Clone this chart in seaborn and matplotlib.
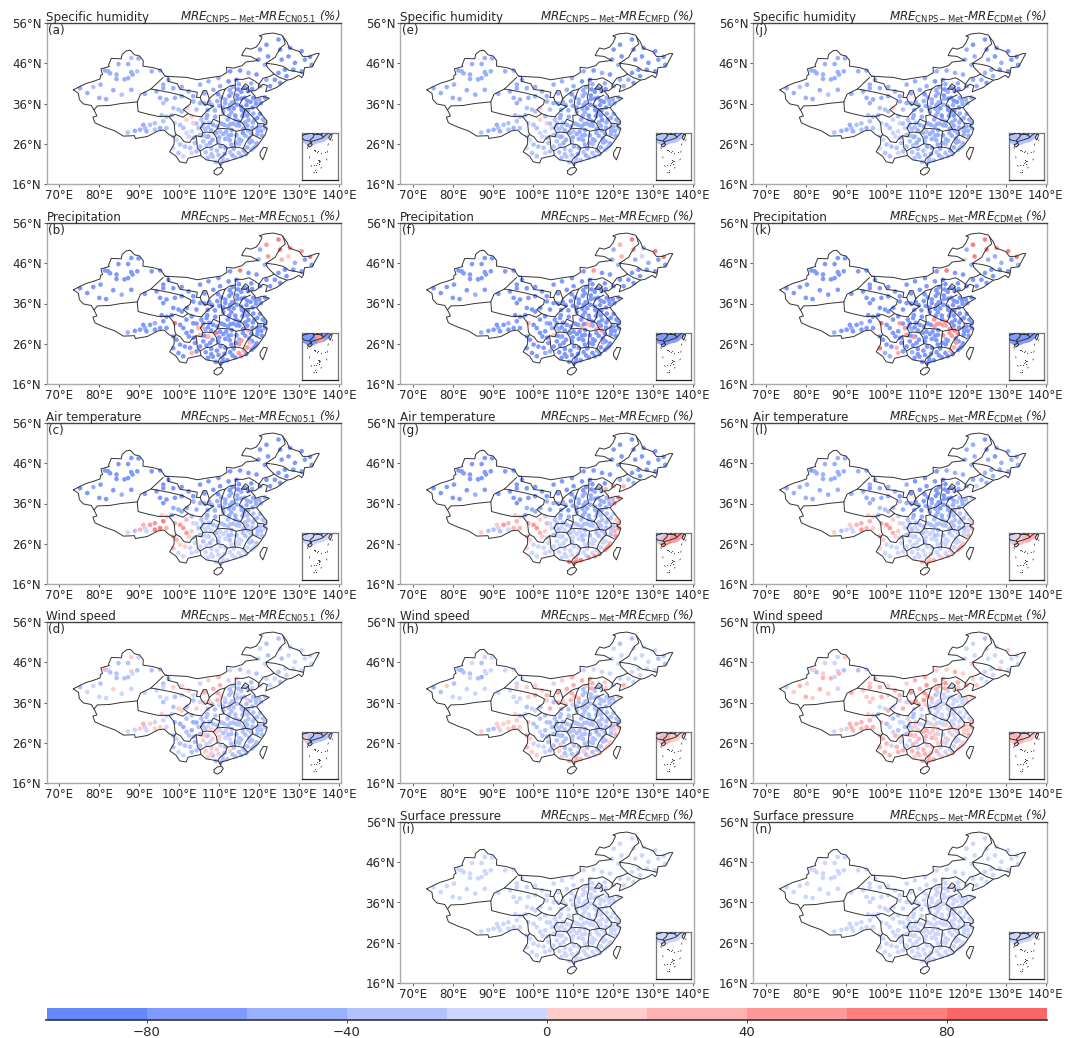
import matplotlib
matplotlib.use("Agg")
import matplotlib.pyplot as plt
from matplotlib.cm import ScalarMappable
from matplotlib.colors import BoundaryNorm, ListedColormap
import seaborn as sns

# station positions by region
lon_xj = [75.2,77,78.5,80.3,80,81.7,83.5,85.6,88,81.4,82.2,82.7,84.8,88,89.8,87.2,84.3,86.3,87.2,88,89.5,88.3,93.1,95.2,96,84.3]
lat_xj = [39.8,38.6,40.1,40.7,37.4,37.1,39.3,38.2,39.4,44.2,44,43.5,45.8,47.3,47.2,45.8,43.2,42,42.3,43.8,44,43.2,44,44.2,40.7,42.1]
lon_qh = [91.4,94.3,96,98.5,95.2,96.8,98.9,100.6,96,98.5,99.8,100.6,101.9,95.6,96.8,98.1]
lat_qh = [38.4,39,39.8,39.8,37.4,37,37.4,37.8,36.1,34.9,34.5,34,34.9,33.1,32.7,33.1]
lon_gs = [97.3,100.6,102.3,103.5,105.2,104.3,103.5]
lat_gs = [41.9,40.1,39,37.8,36.1,34.5,36.5]
lon_xz = [87.1,88.9,90.2,91.4,91.8,93.9,92.7,93.9,96,95.2,96.8,91]
lat_xz = [28.8,29.2,29.5,29.9,29.1,29.5,30.7,31.1,31.6,29.9,29.9,30.7]
lon_sw = [98.9,100.2,101,101.8,103.1,103.5,104.8,106,106.8,108.5,101.8,103.1,105.2,98.5,99.3,100.2,101.4,102.7,103.9,98.5,99.8,101,103.1,104.3,105.2,106,107.3,107.7,109.3,109.8]
lat_sw = [31.1,30.7,29.9,32,32.8,31.1,29.9,31.1,32.4,30.7,28.7,29.1,28.2,27.8,27,25.8,25.3,25,26.2,24.9,23.7,22.9,23.7,24.1,25.3,26.6,27.8,26.2,28.7,26.6]
lon_im = [105.2,107.3,109.8,112.7,115.2,117.3,120.2,121.8,124.8,119.8,121.4,119.3,108.5,110.2,112.3,114.3]
lat_im = [40.7,41.5,42.3,44,44.2,43.6,49.4,50.6,51.9,46.9,45.6,43.2,39.4,40.3,41.5,41.9]
lon_ne = [125.2,127.7,130.6,132.7,125.6,127.3,128.9,131.4,130.6,128.5,126.4,126.8,124.8,123.9,121.8,120.2,122.7,125.2,133.1,122.2]
lat_ne = [49.4,49.8,49,47.6,46.9,47.7,46.1,46.9,44,44.4,44.4,42.8,43.6,41.9,41.9,40.3,40.3,41.1,45.6,47.7]
lon_nc = [116.4,117.2,114.5,115.5,114.5,112.5,113.3,111.5,111,117,120.4,121.4,119.1,118.3,115.5,116.3,113.6,112.4,112.5,114.1,115.6,114,108.9,107.1,109.5,109.7,107,109,106.3,106.3,118.2,118,114.9]
lat_nc = [39.9,39.1,38,38.9,37.1,37.9,40.1,36.1,35,36.7,36.1,37.5,36.7,35,35.2,37.4,34.8,34.7,33,32.1,34.4,33,34.3,34.4,36.6,38.3,33.1,32.7,38.5,36,39.6,41,40.8]
lon_ec = [118.8,117.2,120.2,120.9,121.5,117.3,115.8,117,118.4,120.2,121.5,120.7,119.6,114.3,111.3,112.1,109.5,112.2,115,113,113.1,111.7,110,112.6,113,111.5,115.9,116,117.2,115,115,118,119.3,118.1,118.2,117.6,117,113.3,113.6,116.7,116.1,110.4,114,110.9,112,111.3,110.3,109.4,108.4,106.6,108,109.1,106.5,107.5,106.9]
lat_ec = [32,34.3,33.4,32,31.2,31.9,32.9,30.5,31.3,30.3,29.9,28,29.1,30.6,30.7,32,30.3,30.3,30.5,28.2,29.4,29,27.6,26.9,25.8,27.2,28.7,29.7,29.3,25.9,27.1,28.5,26.1,24.5,26.6,26.3,25.1,23.1,24.8,23.4,24.3,21.2,22.6,21.7,21.9,23.5,25.3,24.3,22.8,23.9,24.7,21.5,29.6,31.2,27.7]
lon_more = [113,115.5,113.2,112.7,114.4,116.8,117.8,118.5,120,119.2,116.2,113,111,110,108.2,107.5,110.5,111.5,112.6,114.7,
 118.5,119.5,117,116.5,118.3,119.5,120.5,119.5,116.5,117.5,115.5,114.2,114.3,112.3,111,110.2,110.6,113.5,114.9,112.8,
 111.5,112.7,114.9,115.5,119,118.6,108,107.2,109.8,110.8,
 105.8,104.3,105.5,107.2,108,106.2,108.3,106.8,103.6,102.4]
lat_more = [38.5,37.2,36.3,35.6,35.7,35.6,36.4,37.4,37,35.9,33.8,33.8,33.9,35.4,35.6,36.4,37.5,37,39.3,39.5,
 33.5,32.4,33,31.3,30,29.9,29.2,28.3,28,27.3,26.8,26.2,28.1,28,28.4,29,31,31,31.5,30.9,
 25,23.9,23.7,22.9,25.4,25,23.4,22.5,23.2,22.5,
 30.3,31,32,30.1,29.3,28,27,25.6,27.5,27.8]
station_lon = lon_xj + lon_qh + lon_gs + lon_xz + lon_sw + lon_im + lon_ne + lon_nc + lon_ec + lon_more
station_lat = lat_xj + lat_qh + lat_gs + lat_xz + lat_sw + lat_im + lat_ne + lat_nc + lat_ec + lat_more

# MRE differences (%) read per station, same order as the stations
mre_a = [-50,-50,-30,-50,-50,-50,-50,-30,-50,-50,-50,-50,-50,-30,-50,-50,-50,-50,-50,-50,-30,-50,-50,-50,-50,-50,
 -50,-50,-50,-50,-50,-50,-50,-50,-30,-30,-30,-30,10,-30,-30,-30,
 -50,-50,-50,-50,-50,-30,-50,
 -30,-50,-50,-30,-50,-30,-30,-30,-30,-50,-30,-50,
 -10,-30,-30,10,10,10,-30,-50,-50,-50,-10,-10,-30,-10,-10,-30,-30,-30,-30,-10,-30,-10,-10,-30,-30,-30,-50,-50,-50,-30,
 -50,-50,-50,-70,-70,-50,-70,-70,-70,-70,-50,-70,-50,-50,-70,-70,
 -70,-70,-70,-70,-70,-70,-70,-70,-70,-70,-70,-70,-70,-70,-50,-50,-70,-70,-70,-70,
 -70,-70,-70,-70,-70,-70,-50,-50,-50,-70,-70,-70,-50,-70,-70,-70,-70,-70,-50,-50,-70,-70,-50,-50,-50,-70,-50,-50,-50,-50,-70,-50,-50,
 -50,-50,-70,-50,-50,-50,-70,-50,-50,-50,-50,-50,-50,-50,-50,-50,-50,-50,-50,-50,-50,-50,-50,-50,-50,-50,-70,-50,-50,-30,-50,-50,-50,-30,-50,-50,-50,-50,-50,-30,-50,-30,-30,-30,-30,-50,-50,-30,-30,-30,-30,-30,-30,-30,-50,
 -50,-70,-50,-50,-70,-70,-70,-70,-50,-70,-70,-50,-50,-50,-50,-50,-50,-50,-50,-70,
 -50,-70,-70,-50,-50,-50,-50,-50,-50,-50,-50,-50,-50,-50,-50,-30,-50,-50,-70,-50,
 -50,-30,-30,-30,-30,-30,-30,-30,-30,-30,
 -30,-30,-30,-30,-50,-30,-50,-30,-30,-10]
mre_b = [-70,-70,-70,-70,-70,-70,-70,-50,-70,-70,-70,-70,-70,-70,-70,-70,-70,-70,-70,-70,-70,-70,-70,-70,-70,-70,
 -70,-70,-70,-70,-70,-70,-70,-70,-70,-70,-70,-70,-70,-70,-70,-70,
 -70,-70,-70,-70,-70,-70,-70,
 -50,-70,-70,-50,-70,-70,-70,-50,-70,-70,-70,-70,
 70,-70,-70,-70,-70,-70,30,-70,-70,-70,-70,-70,30,-70,-70,-70,-70,-70,-70,-70,-70,-70,30,-70,-70,-70,30,-70,70,-70,
 -70,-70,-70,-70,70,-70,-50,50,70,-50,-50,-70,-70,-70,-70,-70,
 70,50,50,70,30,10,-50,-70,-70,-70,-70,-70,-70,-70,-70,-70,-70,-70,-70,50,
 -70,-70,-70,-70,-70,-70,-70,-70,-70,-70,-70,-70,-70,-70,-70,-70,-70,-70,-70,-70,-70,-70,-70,-70,-70,-70,-70,-70,-70,-70,-70,-70,-70,
 -70,-70,-70,-70,-70,-70,-70,-70,-70,-70,-70,-70,-70,-70,-70,-70,-70,-70,-70,-50,-70,-70,-70,-70,-70,-70,-70,-70,30,50,-50,-70,-70,-70,-70,30,50,-70,-70,-70,30,-70,-70,-70,-70,-70,-70,-70,-70,-70,-70,-70,-50,-70,30,
 -70,-70,-70,-70,-70,-70,-70,-70,-70,-70,-70,-70,-70,-70,-70,-70,-70,-70,-70,-70,
 -70,-70,-70,-70,-70,-70,-70,-70,-70,-70,50,-70,-70,-70,-70,-70,-70,-70,-70,-70,
 -70,-70,50,50,-70,-70,-70,-70,-70,-70,
 30,-70,-70,-70,-70,-70,-70,-70,-70,-70]
mre_c = [-70,-70,-50,-70,-70,-70,-70,-50,-70,-70,-70,-70,-70,-70,-70,-70,-70,-70,-70,-70,-70,-70,-70,-70,-70,-70,
 -70,-70,-70,-70,-70,-70,-70,-70,-70,-50,-50,-50,-50,10,10,-50,
 -70,-70,-70,-70,-50,-50,-50,
 -10,-30,30,-10,-10,70,50,50,70,70,30,30,
 30,50,50,30,-30,-10,-30,-30,-30,-30,50,10,-30,30,30,10,10,-10,-10,30,-10,-10,-10,-10,-10,-30,-30,-30,-30,-30,
 -70,-70,-70,-70,-70,-70,-70,-70,-70,-70,-70,-70,-70,-70,-70,-70,
 -70,-70,-70,-70,-70,-70,-70,-70,-70,-70,-70,-70,-70,-70,-70,-70,-70,-70,-70,-70,
 -70,-70,-50,-50,-50,-50,-70,-50,-50,-50,-50,-50,-50,-50,-50,-50,-50,-50,-50,-50,-50,-50,-50,-50,-50,-70,-50,-50,-70,-50,-50,-70,-70,
 -30,-50,-30,-30,-30,-30,-50,-30,-30,-30,-30,-30,-30,-30,-30,-30,-30,-30,-30,-30,-30,-10,-10,-30,-10,-10,-30,-30,-30,-10,-10,-30,-30,-10,-30,-30,-10,-10,-10,-10,-10,-10,-10,-10,-10,-10,-10,-10,-10,-10,-10,-10,-10,-30,-10,
 -50,-50,-50,-50,-50,-50,-50,-50,-50,-50,-50,-50,-50,-50,-50,-50,-50,-50,-70,-70,
 -30,-30,-30,-30,-30,-30,-30,-30,-30,-10,-10,-10,-30,-30,-10,-10,-30,-30,-30,-30,
 -10,-10,-10,-10,-10,-10,-10,-10,-10,-10,
 -10,-10,-30,-10,-10,-10,-10,-10,-10,10]
mre_d = [-30,-10,-10,-30,-10,-10,10,-10,-10,30,-10,-30,-30,10,-10,-30,-30,-30,-30,10,-30,-10,-30,-30,-30,-30,
 -10,-10,-10,10,-10,-10,-30,-10,-30,-30,10,10,-30,10,-10,-10,
 -30,10,10,-10,-10,10,-30,
 -10,-10,10,-10,-10,10,10,-10,-10,10,-10,30,
 -30,-50,-50,-30,-30,-50,-30,-30,-30,-30,-30,-50,-30,-30,-10,-30,-30,-30,-30,-30,-10,-10,-30,-30,-30,10,10,-10,10,10,
 -10,10,30,-10,-30,-10,-10,-30,-30,-10,-10,-30,30,30,-10,10,
 -10,-10,-10,-10,-30,-10,-10,-10,-10,-10,-10,-10,-30,-10,-10,-10,-10,-30,-10,-30,
 -30,-30,-10,-30,-30,-30,-10,-30,-30,10,-30,-30,-30,-30,-10,-30,-30,-30,-30,-30,-30,-30,-30,-30,30,30,-30,-30,30,10,-10,-30,-30,
 -30,-30,-30,-30,-30,-30,-30,-30,-30,-30,-30,-30,-30,-30,-30,-30,-30,-30,-30,-30,-30,-10,10,-10,-30,-10,-30,-30,-30,-30,-30,-30,-30,-30,-30,-30,-30,-30,-30,-30,-30,-30,-30,-30,-30,-30,-10,10,-30,10,10,-30,-30,-30,-30,
 -30,-30,-30,-30,-30,-30,-30,-30,-30,-30,-30,-30,-30,-10,-30,10,10,-10,-30,-30,
 -30,-30,-30,-30,-30,-30,-30,-30,-30,-30,-30,-30,-30,-30,-30,-10,-30,-30,-30,-30,
 -30,10,-30,-30,-30,-30,10,10,10,-30,
 -30,-50,-30,-10,10,10,10,-10,-30,-30]
mre_e = [-50,-50,-50,-50,-50,-50,-50,-50,-50,-50,-50,-50,-50,-50,-50,-50,-50,-50,-50,-50,-50,-50,-50,-50,-50,-50,
 -50,-50,-50,-50,-50,-50,-50,-50,-50,-30,-30,-30,10,-30,-30,-30,
 -50,-50,-50,-50,-50,-30,-50,
 -30,-50,-50,-30,-50,-30,-30,-30,-30,-50,-30,-50,
 -10,-30,-30,10,-30,10,-10,-30,-50,-50,-10,-10,-30,-10,-10,-30,-30,-30,-30,-10,-30,-30,-10,-30,-30,-30,-30,-50,-50,-30,
 -50,-50,-50,-50,-70,-50,-70,-70,-70,-70,-50,-70,-50,-50,-70,-70,
 -70,-70,-70,-70,-70,-70,-70,-70,-70,-70,-70,-70,-70,-50,-50,-50,-50,-70,-70,-70,
 -70,-70,-70,-70,-70,-50,-50,-50,-50,-70,-50,-50,-50,-70,-70,-70,-70,-50,-50,-50,-70,-70,-50,-50,-50,-70,-50,-50,-50,-50,-70,-50,-50,
 -70,-70,-50,-50,-50,-70,-70,-50,-50,-50,-50,-50,-50,-50,-50,-50,-50,-50,-50,-50,-50,-50,-50,-50,-50,-50,-50,-50,-50,-30,-50,-50,-50,-30,-50,-50,-50,-50,-50,-30,-50,-30,-30,-30,-30,-50,-50,-30,-30,-30,-30,-30,-30,-30,-50,
 -50,-70,-50,-50,-70,-70,-70,-50,-50,-50,-70,-50,-50,-50,-50,-50,-50,-50,-50,-70,
 -50,-50,-70,-50,-50,-50,-50,-50,-50,-50,-50,-50,-50,-50,-50,-30,-50,-50,-70,-50,
 -50,-30,-30,-30,-30,-30,-30,-30,-30,-30,
 -30,-30,-30,-30,-50,-30,-50,-30,-30,-10]
mre_f = [-70,-70,-70,-70,-70,-70,-70,-50,-70,-70,-70,-70,-70,-70,-70,-70,-70,-70,-70,-70,-70,-70,-70,-70,-70,-70,
 -70,-70,-70,-70,-70,-70,-70,-70,-70,-70,-70,-70,-70,-70,-70,-70,
 -70,-70,-70,-70,-70,-70,-70,
 -50,-70,-70,-50,-70,-70,-70,-50,-70,-70,-70,-70,
 30,-70,-70,-70,-70,-50,-50,-70,-70,-70,-70,-70,10,-50,-70,-70,-70,-70,-70,-70,-70,-70,-50,-50,-70,-70,-70,-70,-70,-70,
 -70,-70,-70,-70,50,-70,-50,30,70,-50,-50,-70,-70,-70,-70,-70,
 50,-50,70,70,-50,-10,-50,-70,-70,-70,-70,-70,-70,-70,-70,-70,-70,-70,-70,30,
 -70,-70,-70,-70,-70,-70,-70,-70,-70,-70,-70,-70,-70,-70,-70,-70,-70,-70,-70,-70,-70,-70,-70,-70,-70,-70,-70,-70,-70,-70,-70,-70,-70,
 -70,-70,-70,-70,-70,-70,-70,-70,-70,-70,-70,-70,-70,30,-70,-70,-70,30,-50,-70,-70,-70,-70,-70,-70,-70,-70,30,50,-70,-70,-70,-70,-70,-70,-50,-70,-70,-70,-70,-50,-70,-70,-70,-70,-70,-70,-70,-70,-70,-70,-70,-50,-70,-50,
 -70,-70,-70,-70,-70,-70,-70,-70,-70,-70,-70,-70,-70,-70,-70,-70,-70,-70,-70,-70,
 -70,-70,-70,-70,-70,-70,-70,-70,-70,-70,-70,-70,-70,-70,-70,-70,-70,30,-70,-70,
 -70,-70,-70,-70,-70,-70,-70,-70,-70,-70,
 -50,-70,-70,-70,-70,-70,-70,-70,-70,-70]
mre_g = [-70,-70,-70,-70,-70,-70,-70,-50,-70,-70,-70,-70,-70,-70,-70,-70,-70,-70,-70,-70,-70,-70,-70,-70,-70,-70,
 -70,-70,-70,-70,-70,-70,-70,-70,-70,-50,-50,-50,-50,10,10,-50,
 -70,-70,-70,-70,-50,-50,-50,
 10,-30,-30,-10,-30,-10,50,30,30,30,30,10,
 30,50,50,10,-10,30,-10,-30,-30,-30,30,10,-30,30,10,-10,-10,-10,-10,10,-10,-10,-10,-10,-10,-10,-30,-10,-30,-30,
 -70,-70,-70,-70,-70,-70,-70,-70,-70,-70,-70,-70,-70,-70,-70,-70,
 -70,-70,-70,-70,-70,-70,-70,-70,-70,-70,-70,-70,-70,-50,-50,30,30,-50,-70,-70,
 -50,-50,-50,-50,-50,-50,-70,-50,-50,-50,70,70,30,-50,-50,-50,-50,-50,-50,-50,-50,-50,-70,-50,-70,-70,-50,-50,-70,-50,30,-70,-70,
 -30,-50,-10,10,30,-30,-30,-30,-30,-30,70,50,-10,-30,-30,-30,-30,-30,-30,-10,-30,-10,-10,-30,-10,-10,-30,-30,-30,-10,-10,-30,30,50,-10,-10,-10,-10,-10,50,-10,70,50,70,70,-10,-10,-10,-10,-10,-10,70,-30,-30,-10,
 -50,-50,-50,-50,-50,-50,-50,-50,-30,-50,-50,-50,-50,-50,-50,-50,-50,-50,-70,-70,
 -30,-30,-30,-30,-30,-30,30,-30,-30,-10,-10,-10,-30,-30,-10,-10,-30,-30,-30,-30,
 -10,-10,-10,50,50,50,-10,-10,-10,30,
 -10,-10,-30,-10,-10,-10,-10,-10,-10,10]
mre_h = [-50,-30,10,-30,-10,-10,-10,-10,-10,-30,-50,-30,-10,-10,-10,-30,-30,-30,-50,-10,-10,-10,-10,-10,-10,-10,
 -10,-10,10,10,-10,-10,10,30,-10,-30,-10,-10,-30,10,-30,-10,
 -10,10,10,30,-30,30,10,
 10,-30,-30,10,-10,10,10,10,10,30,10,10,
 10,-30,-30,-30,-30,-30,-30,-50,-30,-30,-10,-30,-30,30,10,-10,-10,-10,-30,30,10,10,-10,-30,-30,-30,-50,-30,-30,-30,
 -10,10,30,-10,-10,-10,-10,-30,-30,-10,-10,-10,30,30,30,30,
 -10,-10,-10,-30,-10,-10,-10,-30,-10,-10,-10,-10,-10,-10,-10,-10,30,-10,-30,-10,
 -30,-10,-30,-30,-30,-30,10,-30,-30,-30,-10,10,-30,-30,-30,-30,-30,-30,-30,-30,-30,-30,-30,-30,30,30,-30,-30,50,30,10,10,30,
 -30,-30,-30,-30,-50,-30,-30,-30,-30,-30,30,30,-10,-30,-30,-30,-30,-30,-30,-30,-30,-30,-30,-30,-30,-30,-50,-30,-30,-30,-30,-30,10,10,-30,-30,-30,-30,-30,10,-30,30,10,30,30,-30,-30,-30,-10,10,-30,30,-30,-30,-30,
 -30,-30,-30,-30,-30,-30,-30,-30,-30,-30,-30,-30,-30,-10,10,10,30,30,-30,30,
 -30,-30,-30,-30,-30,-30,10,-30,-30,-30,-30,-30,-30,-30,-30,-30,-30,-30,-30,-30,
 -30,10,-30,10,10,10,-30,10,-30,30,
 -30,-30,-30,-30,-30,-30,-30,10,-30,-30]
mre_i = [-10,-10,-10,-10,-10,-10,-10,-10,-10,-10,-10,-10,-10,-10,-10,-10,-10,-10,-10,-10,-10,-10,-10,-10,-10,-10,
 -10,-10,-10,-10,-10,-10,-10,-10,-10,-10,-10,-10,-10,-10,-10,-10,
 -10,-10,-10,-10,-10,-10,-10,
 -10,-10,-10,-10,-10,-10,-10,-10,-10,-10,-10,-10,
 -10,-10,-10,-10,-10,-10,-10,-10,-10,-10,-10,-10,-10,-10,-10,-10,-10,-10,-10,-10,-10,-10,-10,-10,-10,-10,-10,-10,-10,-10,
 -10,-10,-10,-10,-10,-10,-10,-10,-10,-10,-10,-10,-10,-10,-10,-10,
 -10,-10,-10,-10,-10,-10,-10,-10,-10,-10,-10,-10,-10,-10,-10,-10,-10,-10,-10,-10,
 -10,-10,-10,-10,-10,-10,-10,-10,-10,-10,-10,-10,-10,-10,-10,-10,-10,-10,-10,-10,-10,-10,-10,-10,-10,-10,-10,-10,-10,-10,-10,-10,-10,
 -10,-10,-10,-10,-10,-10,-10,-10,-10,-10,-10,-10,-10,-10,-10,-10,-10,-10,-10,-10,-10,-10,-10,-10,-10,-10,-10,-10,-10,-10,-10,-10,-10,-10,-10,-10,-10,-10,-10,-10,-10,-10,-10,-10,-10,-10,-10,-10,-10,-10,-10,-10,-10,-10,-10,
 -10,-10,-10,-10,-10,-10,-10,-10,-10,-10,-10,-10,-10,-10,-10,-10,-10,-10,-10,-10,
 -10,-10,-10,-10,-10,-10,-10,-10,-10,-10,-10,-10,-10,-10,-10,-10,-10,-10,-10,-10,
 -10,-10,-10,-10,-10,-10,-10,-10,-10,-10,
 -10,-10,-10,-10,-10,-10,-10,-10,-10,-10]
mre_j = [-50,-50,-30,-50,-50,-50,-50,-30,-50,-50,-50,-50,-50,-50,-50,-50,-50,-50,-50,-50,-50,-50,-50,-50,-50,-50,
 -50,-50,-50,-50,-50,-50,-50,-50,-50,-30,-30,-30,10,-30,-30,-30,
 -50,-50,-50,-50,-50,-30,-50,
 -30,-50,-50,-30,-50,-30,-30,-30,-30,-50,-30,-50,
 -10,-30,-30,-10,-30,-10,-10,-30,-50,-50,-10,-10,-30,-10,-10,-30,-30,-30,-30,-10,-30,-30,-10,-30,-30,-30,-30,-50,-50,-30,
 -50,-50,-50,-50,-50,-50,-50,-70,-70,-50,-50,-50,-50,-50,-70,-50,
 -70,-70,-70,-70,-50,-70,-50,-70,-70,-70,-50,-50,-50,-50,-50,-50,-50,-70,-70,-50,
 -70,-70,-70,-50,-50,-50,-50,-50,-50,-70,-50,-50,-50,-70,-70,-70,-70,-50,-50,-50,-70,-70,-50,-50,-50,-70,-50,-50,-50,-50,-70,-50,-50,
 -50,-70,-50,-50,-50,-50,-70,-50,-50,-50,-50,-50,-50,-50,-50,-50,-50,-50,-50,-50,-50,-50,-50,-50,-50,-50,-50,-50,-50,-30,-50,-50,-50,-30,-50,-50,-50,-50,-50,-30,-50,-30,-30,-30,-30,-50,-50,-30,-30,-30,-30,-30,-30,-30,-50,
 -50,-70,-50,-50,-50,-50,-70,-50,-50,-50,-70,-50,-50,-50,-50,-50,-50,-50,-50,-70,
 -50,-50,-70,-50,-50,-50,-50,-50,-50,-50,-50,-50,-50,-50,-50,-30,-50,-50,-50,-50,
 -50,-30,-30,-30,-30,-30,-30,-30,-30,-30,
 -30,-30,-30,-30,-50,-30,-50,-30,-30,-10]
mre_k = [-70,-70,-70,-70,-70,-70,-70,-70,-70,-70,-70,-70,-70,-70,-70,-70,-70,-70,-70,-70,-70,-70,-70,-70,-70,-70,
 -70,-70,-70,-70,-70,-70,-70,-70,-70,-70,-70,-70,-70,-70,-70,-70,
 -70,-70,-70,-70,-70,-70,-70,
 -50,-70,-70,-50,-70,-70,-70,-50,-70,-70,-70,-70,
 70,-70,-70,-70,-70,50,50,-70,-70,-70,-70,-70,50,-70,-70,-70,-70,30,-70,70,-50,-50,30,-70,-70,-70,-70,-70,-70,-70,
 -70,-70,-70,-70,70,-70,-50,70,70,10,-50,-70,-70,-70,-70,-70,
 70,50,70,70,-50,-50,-50,-70,-70,-70,-70,-70,-70,-70,-70,-70,-70,-70,-50,70,
 -70,-70,-70,-70,-70,-70,-70,-70,-70,-70,-70,-70,-70,-70,-70,-70,-70,-70,-70,-70,-70,-70,-70,-70,-70,-70,-70,-70,-70,-70,-70,-70,-70,
 -70,-70,-70,-70,-70,-70,-70,-70,-70,-70,-70,-70,-70,50,-70,50,-70,50,30,-70,-70,-70,-70,-70,-70,-70,50,50,70,-70,-50,50,-70,-70,-70,50,30,-70,-70,-70,30,-70,-70,-70,-70,-70,-70,-70,-70,-50,-70,-70,-50,-70,50,
 -70,-70,-70,-70,-70,-70,-70,-70,-70,-70,-70,-70,-70,-70,-70,-70,-70,-70,-70,-70,
 -70,-70,-70,-70,-70,-70,-70,-70,50,-70,-70,-70,50,-70,-70,-70,-70,50,50,50,
 -70,-70,-70,-70,-70,-70,-70,-70,-70,-70,
 -70,-70,-70,-70,-70,-70,-70,-70,-70,-70]
mre_l = [-50,-50,-50,-50,-50,-50,-50,-50,-50,-70,-50,-50,-50,-50,-50,-50,-50,-50,-50,-50,-50,-50,-50,-50,-50,-50,
 -50,-50,-70,-50,-50,-50,-50,-50,-50,-30,-30,-30,-30,10,10,-30,
 -50,-50,-50,-70,-50,-50,-30,
 10,-30,-10,-10,-10,50,30,30,30,30,10,10,
 30,50,50,10,-10,10,-10,-30,-30,-30,30,10,-30,30,10,-10,-10,-10,-10,10,-10,-10,-10,-10,-10,-10,-30,-10,-30,-30,
 -50,-70,-70,-70,-50,-50,-50,-50,-70,-50,-50,-50,-70,-70,-70,-70,
 -70,-50,-50,-50,-50,-70,-50,-50,-50,-50,-50,-50,-50,-50,-50,-50,-10,-50,-50,-50,
 -70,-50,-70,-70,-70,-70,-70,-50,-50,-50,-10,-10,-50,-50,-50,-70,-70,-50,-50,-50,-50,-50,-70,-50,-70,-70,-50,-50,-70,-50,-50,-50,-70,
 -30,-30,-10,-10,10,-30,-30,-30,-30,-10,30,30,-10,-30,-30,-30,-30,-30,-30,-10,-30,-10,-10,-10,-10,-10,-30,-30,-10,-10,-10,-10,10,30,-10,-10,-10,-10,-10,10,-10,30,10,30,30,-10,-10,-10,-10,-10,-10,30,-30,-30,-10,
 -70,-70,-70,-50,-70,-50,-30,-30,-30,-50,-50,-50,-50,-50,-50,-70,-70,-70,-70,-70,
 -30,-30,-30,-30,-30,-30,-10,-10,-10,-10,-10,-10,-30,-30,-10,-10,-30,-30,-30,-30,
 -10,-10,-10,30,30,30,-10,-10,-10,10,
 -10,-10,-30,-10,-10,-10,-10,-10,-10,10]
mre_m = [-10,10,30,10,30,10,30,10,-10,-10,10,-30,-10,-10,10,-10,10,30,-10,-10,-30,30,-30,-10,10,30,
 30,10,30,30,10,10,30,10,10,-10,-10,30,-10,10,-10,-30,
 30,10,30,30,-10,30,-10,
 -10,10,-10,30,30,30,30,30,30,30,30,30,
 10,-30,-10,-30,-30,-10,-30,10,-30,-10,-10,-30,-30,30,30,30,-10,30,-10,30,30,30,30,30,-10,-10,30,-10,30,-10,
 10,30,30,10,10,30,-10,-10,-30,-10,10,10,30,50,30,30,
 -10,-10,10,-10,-10,-10,-10,-10,-10,10,-10,-10,-10,-10,10,30,10,-10,-10,-10,
 -10,10,-10,-10,-10,-30,30,-10,-10,-10,-10,10,-10,-10,-10,-10,-10,-30,-10,-10,-10,-10,-10,-10,50,50,-30,-10,50,30,10,30,50,
 -10,-10,-10,-10,30,-10,-10,-10,-10,10,30,30,10,-10,10,-10,-10,10,10,-10,10,10,30,10,10,30,-10,10,10,-10,10,-10,10,10,-10,-10,-10,-10,-10,30,-10,30,10,30,30,10,10,30,10,30,-10,30,-10,10,10,
 -10,-10,-10,-10,-10,-10,-10,-10,10,-10,-10,-10,-10,10,30,50,50,30,30,30,
 -10,-10,-10,-10,10,10,10,10,10,-10,-10,10,-10,10,10,30,-10,-10,-10,-10,
 10,30,-10,10,10,10,30,10,30,30,
 -30,-10,-10,10,10,30,30,30,10,30]
mre_n = [-10,-10,-10,-10,-10,-10,-10,-10,-10,-10,-10,-10,-10,-10,-10,-10,-10,-10,-10,-10,-10,-10,-10,-10,-10,-10,
 -10,-10,-10,-10,-10,-10,-10,-10,-10,-10,-10,-10,-10,-10,-10,-10,
 -10,-10,-10,-10,-10,-10,-10,
 -10,-10,-10,-10,-10,-10,-10,-10,-10,-10,-10,-10,
 -10,-10,-10,-10,-10,-10,-10,-10,-10,-10,-10,-10,-10,-10,-10,-10,-10,-10,-10,-10,-10,-10,-10,-10,-10,-10,-10,-10,-10,-10,
 -10,-10,-10,-10,-10,-10,-10,-10,-10,-10,-10,-10,-10,-10,-10,-10,
 -10,-10,-10,-10,-10,-10,-10,-10,-10,-10,-10,-10,-10,-10,-10,-10,-10,-10,-10,-10,
 -10,-10,-10,-10,-10,-10,-10,-10,-10,-10,-10,-10,-10,-10,-10,-10,-10,-10,-10,-10,-10,-10,-10,-10,-10,-10,-10,-10,-10,-10,-10,-10,-10,
 -10,-10,-10,-10,-10,-10,-10,-10,-10,-10,-10,-10,-10,-10,-10,-10,-10,-10,-10,-10,-10,-10,-10,-10,-10,-10,-10,-10,-10,-10,-10,-10,-10,-10,-10,-10,-10,-10,-10,-10,-10,-10,-10,-10,-10,-10,-10,-10,-10,-10,-10,-10,-10,-10,-10,
 -10,-10,-10,-10,-10,-10,-10,-10,-10,-10,-10,-10,-10,-10,-10,-10,-10,-10,-10,-10,
 -10,-10,-10,-10,-10,-10,-10,-10,-10,-10,-10,-10,-10,-10,-10,-10,-10,-10,-10,-10,
 -10,-10,-10,-10,-10,-10,-10,-10,-10,-10,
 -10,-10,-10,-10,-10,-10,-10,-10,-10,-10]

variables = ["Specific humidity", "Precipitation", "Air temperature", "Wind speed", "Surface pressure"]
refs = ["CN05.1", "CMFD", "CDMet"]
panels = [("(a)", 0, 0, mre_a), ("(b)", 1, 0, mre_b), ("(c)", 2, 0, mre_c), ("(d)", 3, 0, mre_d),
          ("(e)", 0, 1, mre_e), ("(f)", 1, 1, mre_f), ("(g)", 2, 1, mre_g), ("(h)", 3, 1, mre_h), ("(i)", 4, 1, mre_i),
          ("(j)", 0, 2, mre_j), ("(k)", 1, 2, mre_k), ("(l)", 2, 2, mre_l), ("(m)", 3, 2, mre_m), ("(n)", 4, 2, mre_n)]

# map outlines (lon, lat)
china = [(73.5,39.4),(75.5,40.4),(76.8,41),(78.5,41.5),(80.2,42.1),(80.3,43),(80.8,43.2),(80.4,44.6),(82.5,45.2),(82.3,45.5),(83,47.2),(85.5,47.1),(85.7,48.2),(86.8,49.1),(87.8,49.2),(88.8,48.1),(90.1,47.8),(91,46.6),(90.9,45.3),(93.5,44.9),(95.4,44.3),(96.4,42.8),(99.5,42.6),(101.8,42.5),(104.5,41.9),(107.5,42.4),(110.4,42.8),(111.9,43.7),(111.8,45),(113.6,44.8),(115.7,45.4),(116.6,46.3),(119.7,46.7),(117.8,47.7),(115.6,47.9),(116,48.8),(116.7,49.8),(117.8,49.5),(119.2,50),(120,51),(120.7,52.5),(120,52.8),(121.5,53.3),(123.5,53.5),(125.6,53),(126.9,51.3),(127.5,49.8),(130,48.9),(130.9,47.7),(132.5,47.7),(134.2,48.4),(135,48.4),(133.2,45.1),(131.3,44.9),(131,43),(130.6,42.4),(129.9,43),(128,42),(126.9,41.8),(124.4,40),(121.6,38.9),(122,40.4),(121,40.8),(119,39.2),(117.8,39.1),(118.9,37.9),(119,37.3),(120.8,37.8),(122.5,37.3),(120.5,36.1),(119.3,35),(120.8,33),(121.9,31.7),(121.8,30.9),(120.9,30.4),(122,29.8),(121.5,28.3),(119.7,25.7),(118,24.4),(116.7,23.2),(114.2,22.3),(111.9,21.6),(110.4,21.2),(110.4,20.3),(109.8,21.4),(108.5,21.7),(106.7,22),(105.4,23.1),(102.2,22.4),(101.7,21.2),(100.1,21.5),(99.2,22.9),(97.6,24),(98.7,25.9),(98.7,27.6),(97.4,28.3),(96.2,29.4),(94.7,29.2),(92,27.8),(89,27.3),(88.8,28),(86,27.9),(83.9,29.2),(81.1,30.2),(78.9,31.2),(78.4,32.6),(79.4,32.9),(78.9,34),(78,35.5),(76,35.9),(75,37),(74.8,38.5),(73.5,39.4)]
hainan = [(108.7,19.3),(109.5,20),(110.6,20.1),(111,19.6),(110.4,18.7),(109.5,18.2),(108.7,18.6),(108.7,19.3)]
taiwan = [(121,25.1),(122,25),(121.6,23.8),(120.9,22),(120.2,23),(120.2,23.8),(121,25.1)]
borders = [
 [(78.7,34.4),(79.5,35.4),(82.5,35.5),(85.5,36),(89.5,36.4),(90.3,38.3),(92.9,39.6),(96,42.5)],
 [(89.5,36.4),(89.7,34),(92,33.4),(94.7,32.8),(97.4,32.8),(98.7,31.2),(98.9,29),(99.2,28.3),(98.7,27.6)],
 [(97.4,32.8),(99,33.3),(100.9,32.6),(102.2,33.5),(103.5,33),(104.5,32.8),(105.6,32.7)],
 [(92.9,39.6),(95.2,39.2),(97.7,38.7),(99,38.4),(100.9,37.9),(102.9,36.9),(102.7,35.8),(101,34.5),(102.2,33.5)],
 [(99.2,28.3),(100.3,27.7),(101.2,26.5),(102.6,26.3),(103,27),(104.2,28),(105.6,27.7),(105.9,28.8)],
 [(105.3,29.9),(106,31),(107.9,31),(108.5,32.1),(110.1,31.4),(109.5,29.7),(108.5,28.7),(107,28.9),(105.9,28.8),(105.3,29.9)],
 [(104.2,28),(104.4,26.5),(104.5,25),(105.2,24.2),(105.4,23.1)],
 [(105.2,24.2),(106.6,25),(108,25.2),(109.5,26),(109.3,27.5),(108.5,28.7)],
 [(109.5,29.7),(111,29.8),(113,29.6),(114.2,29.1),(114,27.5),(113.8,26),(114,25.2)],
 [(109.5,26),(111,25.8),(112,24.9),(113.5,25.2),(114.7,25.1),(116,24.8),(116.6,26.2),(117.5,27.5),(118.4,28.2),(120.4,27.2)],
 [(112,24.9),(111.5,23.5),(110,22.2),(109.7,21.5)],
 [(116,24.8),(117.2,23.6)],
 [(118.4,28.2),(118.2,29.3),(119.6,30.3),(119.6,31.1),(120.8,31),(121.3,30.7)],
 [(118.2,29.3),(116.7,29.6),(114.2,29.1)],
 [(116.7,29.6),(115.9,31),(115.3,31.5),(115.9,32.5),(116.1,33.7),(116.4,34.6)],
 [(115.3,31.5),(114,31.8),(112.7,32.4),(111.2,33.2),(110,33),(110.1,31.4)],
 [(111.2,33.2),(110.6,34.5),(112.7,35.2),(114,36.1),(113.6,37.5),(114,39.2),(114,40.6)],
 [(119.6,31.1),(118.5,32.5),(117.5,33.5),(116.4,34.6),(119.3,35)],
 [(116.4,34.6),(115,35.6),(115.8,37.2),(117.8,38.1)],
 [(110.6,34.5),(110.4,36.5),(111,38.5),(111.5,39.6),(112.5,40.3),(114,40.6),(114,42),(116,42),(117.4,42.4),(119,41.5),(119.9,40.8),(119.8,40)],
 [(115.5,39.6),(116.5,40.9),(117.4,40.2),(116.7,39.5),(115.5,39.6)],
 [(117.2,40.1),(117.5,39),(117,38.7)],
 [(111.5,39.6),(110,39.2),(108,37.7),(107.5,37.2),(106.9,35.8),(106.5,35.5),(105.5,36.7),(105.2,37.5),(106,39.2),(106.8,39.2),(107.5,37.2)],
 [(96.4,42.8),(97.2,42.7),(97.2,41.5),(99.5,40.9),(100.2,39.5),(102.5,39.2),(104.5,38.8),(104.3,37.5),(105.2,37.5)],
 [(106.9,35.8),(108.6,35.3),(107,34.3),(106,33.2),(105.6,32.7)],
 [(119.9,40.8),(121,42.3),(122.5,42.7),(123.7,43.3),(125,42.5),(126.9,41.8)],
 [(123.7,43.3),(122,45),(121.7,46),(124,45.7),(126,45.2),(127.5,44.2),(129,44),(131,43.5)],
 [(121.7,46),(124,47.5),(124.5,48.5),(125.5,50),(126.5,50.8),(125.9,52.7)],
]
# South China Sea inset details
island_lon = [111.8,112.3,112.6,113.9,114.3,115.8,117.8,114.2,114.6,115,115.3,114.6,113.9,114.8,112.6,112.9,113.3,111.9]
island_lat = [16.5,16.6,15.9,15.4,16.1,15.1,15.2,11.2,10.8,10.7,10.3,9.9,9.4,8.8,5.5,4.4,8.4,8.1]
dashes = [[(108.3,18),(108.6,17.2)],[(109.4,12.9),(109.5,12.1)],[(110.3,8.1),(110.7,7.5)],[(111.8,4.2),(112.5,3.9)],[(115.7,6.5),(116.2,7)],[(118.7,11),(119.1,11.7)],[(119.3,15.2),(119.4,16)],[(119.6,19.1),(119.9,20)],[(121.9,21.6),(122.2,22.2)]]

W, H = 1069, 1038
col_left = [46.5, 400, 753]
row_top = [23, 223, 423, 622, 822]
ax_w, ax_h = 294, 161

colors = ["#6688ff", "#7f99ff", "#99b0ff", "#b2c2ff", "#ccd6ff", "#ffcccc", "#ffb2b2", "#ff9999", "#ff7f7f", "#ff6666"]
cmap = ListedColormap(colors)
levels = list(range(-100, 101, 20))
norm = BoundaryNorm(levels, cmap.N)

sns.set_theme(style="white")
plt.rcParams["font.family"] = "DejaVu Sans"
plt.rcParams["mathtext.default"] = "it"
fig = plt.figure(figsize=(W / 100, H / 100), dpi=100)


def rect(x, y, w, h):
    return [x / W, 1 - (y + h) / H, w / W, h / H]


def draw_lines(ax, lw):
    for b in borders:
        ax.plot([p[0] for p in b], [p[1] for p in b], color="#111111", lw=lw, alpha=0.85, zorder=3)
    for shape in (china, hainan, taiwan):
        ax.plot([p[0] for p in shape], [p[1] for p in shape], color="#333333", lw=lw, zorder=3)


for label, row, col, vals in panels:
    ax = fig.add_axes(rect(col_left[col], row_top[row], ax_w, ax_h))
    sns.scatterplot(x=station_lon, y=station_lat, hue=vals, palette=cmap, hue_norm=norm,
                    s=11, linewidth=0, legend=False, ax=ax, zorder=2)
    draw_lines(ax, 0.7)
    ax.set_xlim(66.8, 140.3)
    ax.set_ylim(16, 56)
    ax.set_xticks(range(70, 141, 10))
    ax.set_xticklabels([f"{x}°E" for x in range(70, 141, 10)])
    ax.set_yticks(range(16, 57, 10))
    ax.set_yticklabels([f"{y}°N" for y in range(16, 57, 10)])
    ax.tick_params(length=2, width=0.6, labelsize=8.5, pad=1.5, color="#444444", bottom=True, left=True)
    for name, spine in ax.spines.items():
        spine.set_color("#444444" if name == "top" else "#aaaaaa")
        spine.set_linewidth(1)
    ax.set_title(variables[row], loc="left", fontsize=8.6, pad=1.5)
    ax.set_title(rf"$MRE_{{\mathrm{{CNPS-Met}}}}$-$MRE_{{\mathrm{{{refs[col]}}}}}$ (%)",
                 loc="right", fontsize=8.6, pad=1.5, style="italic")
    ax.text(0.006, 0.995, label, transform=ax.transAxes, fontsize=8.6, va="top")

    # South China Sea inset
    inset = fig.add_axes(rect(col_left[col] + 255.5, row_top[row] + 110, 35.7, 47))
    sns.scatterplot(x=station_lon, y=station_lat, hue=vals, palette=cmap, hue_norm=norm,
                    s=40, linewidth=0, legend=False, ax=inset, zorder=2)
    draw_lines(inset, 0.7)
    for d in dashes:
        inset.plot([p[0] for p in d], [p[1] for p in d], color="#333333", lw=0.5)
    inset.scatter(island_lon, island_lat, s=0.6, color="#333333", linewidths=0)
    inset.set_xlim(105.4, 125)
    inset.set_ylim(0, 25.9)
    inset.set_xticks([])
    inset.set_yticks([])
    for name, spine in inset.spines.items():
        spine.set_color("#222222" if name == "bottom" else "#777777")
        spine.set_linewidth(0.9)

cax = fig.add_axes(rect(46.5, 1008, 1000.5, 12))
cb = fig.colorbar(ScalarMappable(norm=norm, cmap=cmap), cax=cax, orientation="horizontal",
                  ticks=[-80, -40, 0, 40, 80], spacing="proportional")
cb.minorticks_off()
cb.outline.set_visible(False)
cax.spines["bottom"].set_visible(True)
cax.spines["bottom"].set_color("#333333")
cax.spines["bottom"].set_linewidth(1.2)
cax.tick_params(labelsize=9.5, length=2, width=0.6, pad=2, bottom=True)

fig.savefig("out.png", dpi=100)
